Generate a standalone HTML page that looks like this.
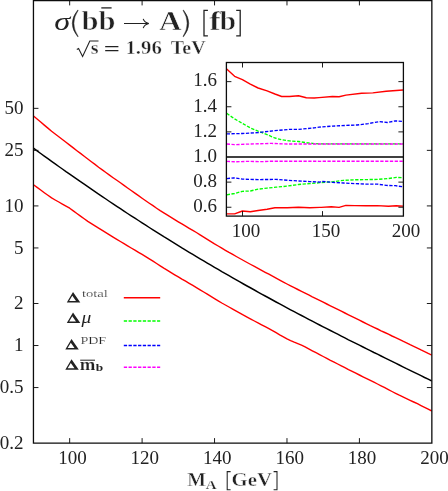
<!DOCTYPE html>
<html><head><meta charset="utf-8"><title>chart</title>
<style>
html,body{margin:0;padding:0;background:#fff;}
body{width:448px;height:491px;overflow:hidden;font-family:"Liberation Serif",serif;}
svg{display:block;will-change:transform;}
text{font-family:"Liberation Serif",serif;fill:#222;}
.t{font-size:19px;}
.b{font-weight:bold;}
.i{font-style:italic;}
</style></head><body>
<svg width="448" height="491" viewBox="0 0 448 491">
<rect x="0" y="0" width="448" height="491" fill="#fff"/>
<clipPath id="c1"><rect x="33.45" y="0" width="398.40000000000003" height="443.1"/></clipPath>
<g clip-path="url(#c1)">
<polyline points="33.5,116.0 37.1,119.0 40.7,122.0 44.3,125.1 47.9,128.1 51.6,131.2 55.2,134.0 58.8,136.8 62.4,139.5 66.0,142.3 69.7,145.1 73.3,147.9 76.9,150.7 80.5,153.4 84.2,156.2 87.8,159.0 91.4,161.7 95.0,164.4 98.6,167.2 102.3,169.9 105.9,172.5 109.5,175.1 113.1,177.7 116.8,180.3 120.4,182.8 124.0,185.4 127.6,188.0 131.2,190.5 134.9,193.1 138.5,195.6 142.1,198.2 145.7,200.7 149.3,203.2 153.0,205.7 156.6,208.2 160.2,210.6 163.8,212.8 167.5,215.1 171.1,217.3 174.7,219.6 178.3,221.8 181.9,223.9 185.6,226.1 189.2,228.3 192.8,230.4 196.4,232.5 200.1,234.8 203.7,237.1 207.3,239.4 210.9,241.7 214.5,243.9 218.2,246.0 221.8,248.2 225.4,250.3 229.0,252.4 232.7,254.4 236.3,256.5 239.9,258.5 243.5,260.5 247.1,262.5 250.8,264.5 254.4,266.4 258.0,268.4 261.6,270.4 265.2,272.3 268.9,274.2 272.5,276.2 276.1,278.1 279.7,280.1 283.4,282.1 287.0,284.0 290.6,285.9 294.2,287.7 297.8,289.5 301.5,291.3 305.1,293.1 308.7,294.9 312.3,296.8 316.0,298.6 319.6,300.4 323.2,302.2 326.8,304.0 330.4,305.8 334.1,307.6 337.7,309.4 341.3,311.2 344.9,313.0 348.5,314.8 352.2,316.6 355.8,318.4 359.4,320.2 363.0,322.0 366.7,323.8 370.3,325.6 373.9,327.3 377.5,329.0 381.1,330.8 384.8,332.5 388.4,334.2 392.0,336.0 395.6,337.7 399.3,339.4 402.9,341.2 406.5,342.9 410.1,344.7 413.7,346.4 417.4,348.1 421.0,349.9 424.6,351.6 428.2,353.4 431.9,355.1" fill="none" stroke="#ff0000" stroke-width="1.4" stroke-linejoin="round"/>
<polyline points="33.5,184.8 37.1,187.4 40.7,190.0 44.3,192.7 47.9,195.3 51.6,197.9 55.2,200.0 58.8,202.0 62.4,204.1 66.0,206.1 69.7,208.2 73.3,210.9 76.9,213.5 80.5,216.1 84.2,218.8 87.8,221.4 91.4,223.6 95.0,225.9 98.6,228.1 102.3,230.4 105.9,232.6 109.5,234.9 113.1,237.1 116.8,239.3 120.4,241.5 124.0,243.7 127.6,245.9 131.2,248.0 134.9,250.1 138.5,252.3 142.1,254.4 145.7,256.6 149.3,258.9 153.0,261.2 156.6,263.5 160.2,265.8 163.8,268.1 167.5,270.3 171.1,272.6 174.7,274.8 178.3,276.9 181.9,279.1 185.6,281.2 189.2,283.3 192.8,285.4 196.4,287.6 200.1,289.8 203.7,292.0 207.3,294.2 210.9,296.4 214.5,298.6 218.2,300.8 221.8,303.0 225.4,305.0 229.0,307.0 232.7,309.1 236.3,311.1 239.9,313.1 243.5,315.1 247.1,317.1 250.8,319.1 254.4,321.0 258.0,322.9 261.6,324.8 265.2,326.7 268.9,328.6 272.5,330.6 276.1,332.7 279.7,334.8 283.4,336.8 287.0,338.9 290.6,340.6 294.2,342.2 297.8,343.7 301.5,345.2 305.1,346.9 308.7,348.9 312.3,350.8 316.0,352.7 319.6,354.6 323.2,356.5 326.8,358.4 330.4,360.3 334.1,362.1 337.7,364.0 341.3,365.9 344.9,367.7 348.5,369.6 352.2,371.4 355.8,373.2 359.4,375.0 363.0,376.8 366.7,378.6 370.3,380.3 373.9,382.1 377.5,384.0 381.1,385.8 384.8,387.7 388.4,389.6 392.0,391.5 395.6,393.3 399.3,395.2 402.9,396.9 406.5,398.6 410.1,400.3 413.7,402.0 417.4,403.7 421.0,405.6 424.6,407.4 428.2,409.2 431.9,411.1" fill="none" stroke="#ff0000" stroke-width="1.4" stroke-linejoin="round"/>
<polyline points="33.5,148.2 37.1,150.8 40.7,153.5 44.3,156.1 47.9,158.7 51.6,161.3 55.2,163.9 58.8,166.5 62.4,169.0 66.0,171.6 69.7,174.1 73.3,176.7 76.9,179.2 80.5,181.7 84.2,184.2 87.8,186.7 91.4,189.2 95.0,191.7 98.6,194.1 102.3,196.6 105.9,199.0 109.5,201.5 113.1,203.9 116.8,206.3 120.4,208.7 124.0,211.1 127.6,213.5 131.2,215.8 134.9,218.2 138.5,220.5 142.1,222.9 145.7,225.2 149.3,227.5 153.0,229.8 156.6,232.1 160.2,234.4 163.8,236.7 167.5,238.9 171.1,241.2 174.7,243.4 178.3,245.6 181.9,247.9 185.6,250.1 189.2,252.3 192.8,254.4 196.4,256.6 200.1,258.8 203.7,260.9 207.3,263.1 210.9,265.2 214.5,267.3 218.2,269.4 221.8,271.6 225.4,273.6 229.0,275.7 232.7,277.8 236.3,279.9 239.9,281.9 243.5,284.0 247.1,286.0 250.8,288.0 254.4,290.0 258.0,292.1 261.6,294.1 265.2,296.0 268.9,298.0 272.5,300.0 276.1,302.0 279.7,303.9 283.4,305.9 287.0,307.8 290.6,309.8 294.2,311.7 297.8,313.6 301.5,315.5 305.1,317.4 308.7,319.3 312.3,321.2 316.0,323.1 319.6,325.0 323.2,326.8 326.8,328.7 330.4,330.5 334.1,332.4 337.7,334.2 341.3,336.1 344.9,337.9 348.5,339.8 352.2,341.6 355.8,343.4 359.4,345.2 363.0,347.0 366.7,348.8 370.3,350.6 373.9,352.5 377.5,354.2 381.1,356.0 384.8,357.8 388.4,359.6 392.0,361.4 395.6,363.2 399.3,365.0 402.9,366.8 406.5,368.6 410.1,370.3 413.7,372.1 417.4,373.9 421.0,375.7 424.6,377.5 428.2,379.2 431.9,381.0" fill="none" stroke="#000" stroke-width="1.45" stroke-linejoin="round"/>
</g>
<path d="M33.45,0 V443.1 H431.85 V0 M32.800000000000004,0.55 H432.5" fill="none" stroke="#0c0c0c" stroke-width="1.3"/>
<path d="M69.67,443.1 v-5 M69.67,0.4 v5 M142.10,443.1 v-5 M142.10,0.4 v5 M214.54,443.1 v-5 M214.54,0.4 v5 M286.98,443.1 v-5 M286.98,0.4 v5 M359.41,443.1 v-5 M359.41,0.4 v5 M33.45,108.35 h5 M431.85,108.35 h-5 M33.45,150.37 h5 M431.85,150.37 h-5 M33.45,205.92 h5 M431.85,205.92 h-5 M33.45,247.95 h5 M431.85,247.95 h-5 M33.45,303.50 h5 M431.85,303.50 h-5 M33.45,345.52 h5 M431.85,345.52 h-5 M33.45,387.55 h5 M431.85,387.55 h-5" fill="none" stroke="#111" stroke-width="0.95"/>
<text class="t" x="72.4" y="463.7" text-anchor="middle">100</text>
<text class="t" x="144.8" y="463.7" text-anchor="middle">120</text>
<text class="t" x="217.2" y="463.7" text-anchor="middle">140</text>
<text class="t" x="289.7" y="463.7" text-anchor="middle">160</text>
<text class="t" x="362.1" y="463.7" text-anchor="middle">180</text>
<text class="t" x="434.6" y="463.7" text-anchor="middle">200</text>
<text class="t" x="23.6" y="114.1" text-anchor="end">50</text>
<text class="t" x="23.6" y="156.2" text-anchor="end">25</text>
<text class="t" x="23.6" y="211.7" text-anchor="end">10</text>
<text class="t" x="23.6" y="253.7" text-anchor="end">5</text>
<text class="t" x="23.6" y="309.3" text-anchor="end">2</text>
<text class="t" x="23.6" y="351.3" text-anchor="end">1</text>
<text class="t" x="23.6" y="393.3" text-anchor="end">0.5</text>
<text class="t" x="23.6" y="448.9" text-anchor="end">0.2</text>
<rect x="226.4" y="62.5" width="176.99999999999997" height="153.6" fill="#fff" stroke="none"/>
<clipPath id="c2"><rect x="226.4" y="62.5" width="176.99999999999997" height="153.6"/></clipPath>
<g clip-path="url(#c2)">
<polyline points="226.7,113.3 234.6,118.9 242.4,123.4 250.3,127.9 258.1,131.2 267.1,134.6 274.9,138.0 281.7,139.8 289.5,140.9 298.5,141.5 306.3,142.7 314.2,143.6 320.0,143.9 403.0,143.9" fill="none" stroke="#00ff00" stroke-width="1.35" stroke-linejoin="round" stroke-dasharray="3.3 1.5"/>
<polyline points="226.7,194.8 234.6,193.5 242.4,191.3 250.3,191.0 258.1,189.2 267.1,188.1 276.0,187.2 287.3,186.1 298.5,184.5 309.7,183.6 320.0,182.7 321.2,182.5 332.4,181.8 343.6,180.3 354.8,179.8 366.0,179.6 377.3,179.4 388.5,178.5 396.3,177.4 403.0,177.6" fill="none" stroke="#00ff00" stroke-width="1.35" stroke-linejoin="round" stroke-dasharray="3.3 1.5"/>
<polyline points="226.7,133.9 242.4,133.5 258.1,132.6 274.9,130.6 289.5,129.4 298.5,129.4 314.2,127.9 319.0,127.2 332.4,126.1 345.9,125.4 357.1,125.0 368.3,123.6 379.5,121.6 387.4,122.5 395.2,120.9 403.0,121.4" fill="none" stroke="#0000ff" stroke-width="1.35" stroke-linejoin="round" stroke-dasharray="3.3 1.5"/>
<polyline points="226.7,178.7 233.5,177.8 242.4,179.1 258.1,179.6 276.0,179.4 294.0,180.7 309.7,181.6 320.0,182.1 321.2,181.4 332.4,182.3 343.6,183.0 354.8,183.6 366.0,184.1 377.3,184.1 386.2,185.4 395.2,185.7 403.0,186.8" fill="none" stroke="#0000ff" stroke-width="1.35" stroke-linejoin="round" stroke-dasharray="3.3 1.5"/>
<polyline points="226.7,144.0 234.6,144.7 250.3,144.0 271.5,143.4 287.0,144.0 320.0,144.0 403.0,144.0" fill="none" stroke="#ff00ff" stroke-width="1.35" stroke-linejoin="round" stroke-dasharray="3.3 1.5"/>
<polyline points="226.7,161.3 236.0,161.8 248.0,161.3 260.0,161.7 272.0,161.2 320.0,161.3 403.0,161.2" fill="none" stroke="#ff00ff" stroke-width="1.35" stroke-linejoin="round" stroke-dasharray="3.3 1.5"/>
<polyline points="226.7,68.9 234.6,76.3 242.4,79.7 250.3,84.1 258.1,88.0 267.1,90.9 274.9,94.0 281.7,96.5 289.5,96.5 298.5,95.8 306.3,97.8 314.2,98.0 319.0,97.6 332.4,96.5 339.1,96.7 345.9,95.1 361.6,93.3 372.8,92.9 386.2,91.3 403.0,90.0" fill="none" stroke="#ff0000" stroke-width="1.4" stroke-linejoin="round"/>
<polyline points="226.7,213.9 234.6,213.9 242.4,211.0 250.3,211.7 258.1,210.5 267.1,209.2 274.9,207.8 287.3,207.8 298.5,207.2 309.7,207.8 320.0,207.4 321.2,207.4 331.3,206.7 339.1,207.4 345.9,205.4 354.8,205.6 366.0,205.8 377.3,205.6 388.5,206.3 396.3,205.8 403.0,206.1" fill="none" stroke="#ff0000" stroke-width="1.4" stroke-linejoin="round"/>
<line x1="226.4" x2="403.4" y1="157.0" y2="157.0" stroke="#000" stroke-width="1.7"/>
</g>
<rect x="226.4" y="62.5" width="176.99999999999997" height="153.6" fill="none" stroke="#0c0c0c" stroke-width="1.3"/>
<path d="M226.4,81.64 h5 M403.4,81.64 h-5 M226.4,106.76 h5 M403.4,106.76 h-5 M226.4,131.88 h5 M403.4,131.88 h-5 M226.4,182.12 h5 M403.4,182.12 h-5 M226.4,207.24 h5 M403.4,207.24 h-5 M242.50,62.5 v5 M242.50,216.1 v-5 M322.50,62.5 v5 M322.50,216.1 v-5" fill="none" stroke="#111" stroke-width="0.95"/>
<text class="t" x="217.0" y="86.3" text-anchor="end">1.6</text>
<text class="t" x="217.0" y="111.5" text-anchor="end">1.4</text>
<text class="t" x="217.0" y="136.6" text-anchor="end">1.2</text>
<text class="t" x="217.0" y="161.7" text-anchor="end">1.0</text>
<text class="t" x="217.0" y="186.8" text-anchor="end">0.8</text>
<text class="t" x="217.0" y="211.9" text-anchor="end">0.6</text>
<text class="t" x="246.0" y="237.2" text-anchor="middle">100</text>
<text class="t" x="326.0" y="237.2" text-anchor="middle">150</text>
<text class="t" x="406.0" y="237.2" text-anchor="middle">200</text>
<line x1="123.8" x2="160.2" y1="297.8" y2="297.8" stroke="#ff0000" stroke-width="1.5"/>
<line x1="123.8" x2="160.2" y1="321.1" y2="321.1" stroke="#00ff00" stroke-width="1.5" stroke-dasharray="3.3 1.45"/>
<line x1="123.8" x2="160.2" y1="345.6" y2="345.6" stroke="#0000ff" stroke-width="1.5" stroke-dasharray="3.3 1.45"/>
<line x1="123.8" x2="160.2" y1="367.2" y2="367.2" stroke="#ff00ff" stroke-width="1.5" stroke-dasharray="3.3 1.45"/>
<path d="M66.80,302.50 L73.01,292.00 L80.30,302.50 Z M69.16,301.05 L72.30,295.73 L75.99,301.05 Z" fill="#222" fill-rule="evenodd"/>
<text font-size="10.8" x="81.9" y="296.5" textLength="26" lengthAdjust="spacingAndGlyphs" stroke="#fff" stroke-width="0.2">total</text>
<path d="M66.80,322.90 L73.01,312.40 L80.30,322.90 Z M69.16,321.45 L72.30,316.13 L75.99,321.45 Z" fill="#222" fill-rule="evenodd"/>
<text class="i" font-size="16.5" x="81.6" y="322.9" textLength="9.8" lengthAdjust="spacingAndGlyphs">μ</text>
<path d="M65.30,349.50 L71.51,339.00 L78.80,349.50 Z M67.66,348.05 L70.80,342.73 L74.49,348.05 Z" fill="#222" fill-rule="evenodd"/>
<text font-size="11" x="80.4" y="344.2" textLength="25.7" lengthAdjust="spacingAndGlyphs" fill="#333" stroke="#fff" stroke-width="0.2">PDF</text>
<path d="M65.30,369.80 L71.51,359.30 L78.80,369.80 Z M67.66,368.35 L70.80,363.03 L74.49,368.35 Z" fill="#222" fill-rule="evenodd"/>
<text class="b" font-size="17" x="79.8" y="369.8" textLength="15.6" lengthAdjust="spacingAndGlyphs" stroke="#fff" stroke-width="0.2">m</text>
<line x1="80.2" x2="95" y1="360.2" y2="360.2" stroke="#222" stroke-width="1"/>
<text class="b" font-size="11.3" x="95.7" y="371.2" textLength="7.4" lengthAdjust="spacingAndGlyphs">b</text>
<text class="i" font-size="24.5" x="54.2" y="29.9" textLength="16" lengthAdjust="spacingAndGlyphs">σ</text>
<path d="M78.2,10.2 Q69.52,23.4 78.2,36.6 L77.60000000000001,36.6 Q66.92,23.4 77.60000000000001,10.2 Z" fill="#222" stroke="#222" stroke-width="0.5"/>
<text class="b" font-size="28" x="81.6" y="29.9" textLength="17" lengthAdjust="spacingAndGlyphs" stroke="#fff" stroke-width="0.55">b</text>
<text class="b" font-size="28" x="98.6" y="29.9" textLength="17" lengthAdjust="spacingAndGlyphs" stroke="#fff" stroke-width="0.55">b</text>
<line x1="101.3" x2="111.6" y1="7.9" y2="7.9" stroke="#222" stroke-width="1.3"/>
<path d="M124,23.5 H148.2" fill="none" stroke="#222" stroke-width="1.05"/>
<path d="M143.2,18.9 Q144.4,22.4 148.8,23.5 Q144.4,24.6 143.2,28.1" fill="none" stroke="#222" stroke-width="1.1"/>
<text class="b" font-size="28" x="159" y="29.9" textLength="22.6" lengthAdjust="spacingAndGlyphs" stroke="#fff" stroke-width="0.55">A</text>
<path d="M183.0,10.2 Q191.37,23.4 183.0,36.6 L183.6,36.6 Q193.97,23.4 183.6,10.2 Z" fill="#222" stroke="#222" stroke-width="0.5"/>
<path d="M207.9,10.4 H204 V35.8 H207.9" fill="none" stroke="#222" stroke-width="1.3"/>
<text class="b" font-size="28" x="209.2" y="29.9" textLength="11.5" lengthAdjust="spacingAndGlyphs" stroke="#fff" stroke-width="0.55">f</text>
<text class="b" font-size="28" x="219.4" y="29.9" textLength="16.6" lengthAdjust="spacingAndGlyphs" stroke="#fff" stroke-width="0.55">b</text>
<path d="M236.2,10.4 H240.2 V35.8 H236.2" fill="none" stroke="#222" stroke-width="1.3"/>
<path d="M76.8,49.6 L78.6,48.6 L82.6,56.4 L89.8,41 H98.5" fill="none" stroke="#222" stroke-width="1.1" stroke-linejoin="miter"/>
<text class="b" font-size="18.5" x="90.8" y="53.5" textLength="7.8" lengthAdjust="spacingAndGlyphs" stroke="#fff" stroke-width="0.4">s</text>
<path d="M105.2,46.6 H118.4 M105.2,50.6 H118.4" stroke="#222" stroke-width="1.1" fill="none"/>
<text class="b" font-size="18.5" x="125.4" y="53.5" textLength="36.4" lengthAdjust="spacingAndGlyphs" stroke="#fff" stroke-width="0.4">1.96</text>
<text class="b" font-size="18.5" x="170.8" y="53.5" textLength="34.8" lengthAdjust="spacingAndGlyphs" stroke="#fff" stroke-width="0.4">TeV</text>
<text class="b" font-size="18.5" x="187.2" y="485.6" textLength="18.8" lengthAdjust="spacingAndGlyphs" stroke="#fff" stroke-width="0.4">M</text>
<text class="b" font-size="13" x="205.8" y="489.4" textLength="10.8" lengthAdjust="spacingAndGlyphs" stroke="#fff" stroke-width="0.25">A</text>
<path d="M230.6,471.6 H227.2 V489.7 H230.6" fill="none" stroke="#222" stroke-width="1.05"/>
<text class="b" font-size="18.5" x="231.6" y="485.6" textLength="40.4" lengthAdjust="spacingAndGlyphs" stroke="#fff" stroke-width="0.4">GeV</text>
<path d="M273.6,471.6 H277 V489.7 H273.6" fill="none" stroke="#222" stroke-width="1.05"/>
</svg></body></html>
